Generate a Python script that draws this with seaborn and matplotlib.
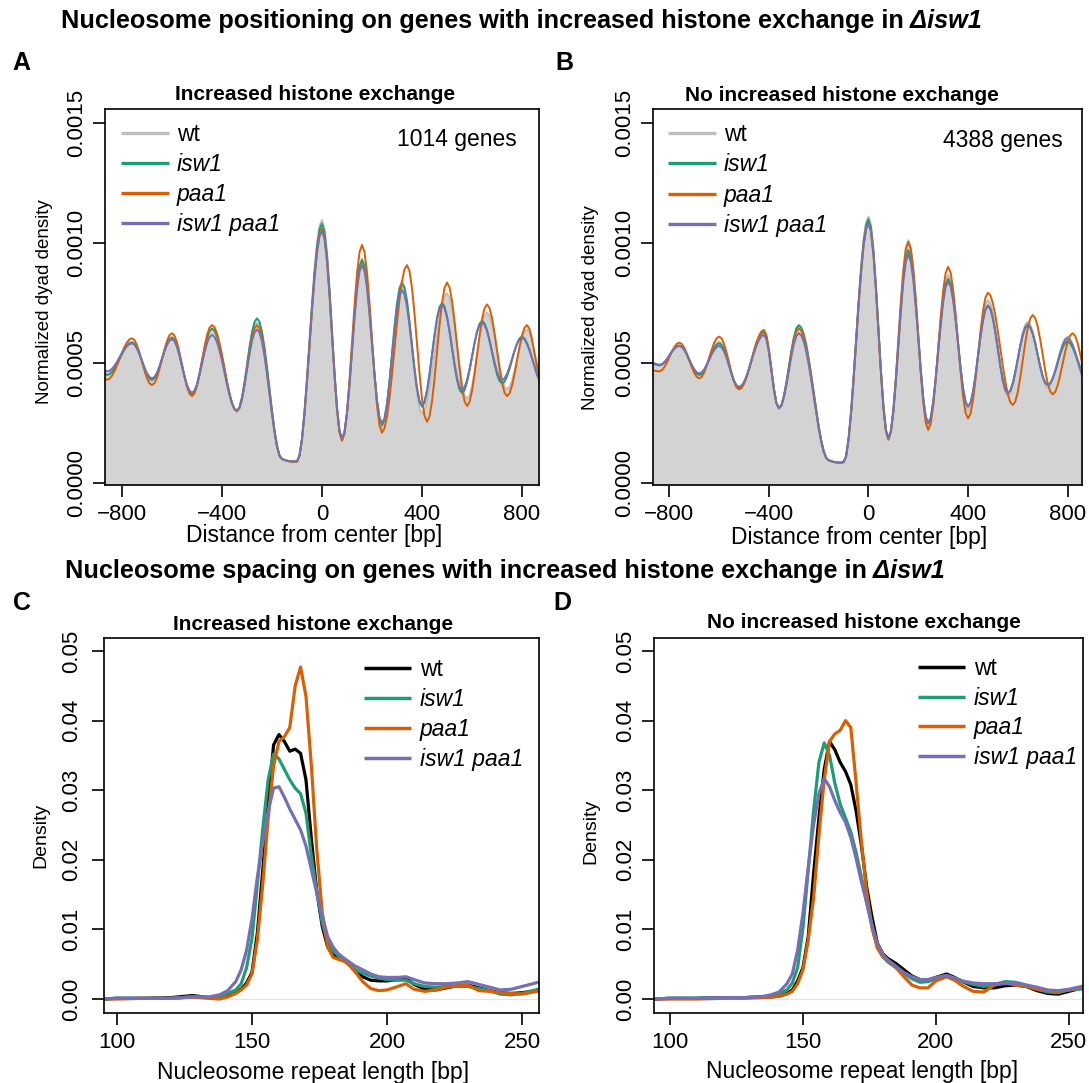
import numpy as np
import pandas as pd
import matplotlib
matplotlib.use("Agg")
import matplotlib.pyplot as plt
import seaborn as sns
from matplotlib.lines import Line2D

# ---------------- data ----------------
strains = ["wt", "isw1", "paa1", "isw1 paa1"]
colors_AB = ["#BEBEBE", "#1B9E77", "#D95F02", "#7570B3"]
colors_CD = ["#000000", "#1B9E77", "#D95F02", "#7570B3"]
genes_A = "1014 genes"
genes_B = "4388 genes"

# distance from center [bp]
dyad_x = np.arange(-880, 881, 10)

# normalized dyad density (units of 1e-4), panel A (increased exchange)
A_wt = [
    4.65, 4.60, 4.55, 4.58, 4.68, 4.83, 5.02, 5.22, 5.43, 5.62,
    5.77, 5.87, 5.90, 5.84, 5.66, 5.39, 5.08, 4.76, 4.49, 4.31,
    4.25, 4.32, 4.52, 4.82, 5.18, 5.53, 5.83, 6.03, 6.10, 6.01,
    5.75, 5.36, 4.90, 4.44, 4.05, 3.79, 3.70, 3.80, 4.10, 4.53,
    5.05, 5.57, 6.00, 6.30, 6.40, 6.32, 6.08, 5.70, 5.23, 4.70,
    4.17, 3.70, 3.32, 3.08, 3.00, 3.14, 3.54, 4.14, 4.85, 5.56,
    6.16, 6.56, 6.70, 6.56, 6.16, 5.53, 4.73, 3.85, 2.97, 2.18,
    1.54, 1.14, 1.00, 0.96, 0.93, 0.91, 0.90, 0.90, 0.90, 1.15,
    1.86, 2.97, 4.38, 5.93, 7.48, 8.89, 10.00, 10.71, 10.96, 10.61,
    9.62, 8.13, 6.38, 4.63, 3.14, 2.15, 1.80, 2.09, 2.91, 4.13,
    5.58, 7.02, 8.25, 9.06, 9.35, 9.08, 8.32, 7.17, 5.83, 4.48,
    3.33, 2.57, 2.30, 2.53, 3.19, 4.18, 5.35, 6.52, 7.51, 8.17,
    8.40, 8.19, 7.60, 6.70, 5.65, 4.60, 3.71, 3.11, 2.90, 3.02,
    3.38, 3.93, 4.63, 5.40, 6.17, 6.87, 7.42, 7.78, 7.90, 7.73,
    7.26, 6.54, 5.70, 4.86, 4.14, 3.67, 3.50, 3.64, 4.03, 4.61,
    5.30, 5.99, 6.57, 6.96, 7.10, 6.98, 6.63, 6.11, 5.50, 4.89,
    4.37, 4.02, 3.90, 4.00, 4.27, 4.67, 5.15, 5.63, 6.03, 6.30,
    6.40, 6.28, 5.90, 5.45, 5.00, 4.65, 4.40]
A_isw1 = [
    4.60, 4.55, 4.50, 4.53, 4.63, 4.78, 4.97, 5.17, 5.38, 5.57,
    5.72, 5.82, 5.85, 5.79, 5.62, 5.37, 5.08, 4.78, 4.53, 4.36,
    4.30, 4.37, 4.56, 4.84, 5.18, 5.51, 5.79, 5.98, 6.05, 5.96,
    5.71, 5.32, 4.88, 4.43, 4.04, 3.79, 3.70, 3.80, 4.10, 4.55,
    5.07, 5.59, 6.04, 6.34, 6.44, 6.36, 6.11, 5.73, 5.25, 4.72,
    4.19, 3.71, 3.33, 3.08, 3.00, 3.15, 3.57, 4.19, 4.93, 5.67,
    6.29, 6.71, 6.86, 6.72, 6.30, 5.65, 4.84, 3.93, 3.02, 2.21,
    1.56, 1.14, 1.00, 0.96, 0.93, 0.91, 0.90, 0.90, 0.90, 1.14,
    1.85, 2.94, 4.32, 5.85, 7.38, 8.76, 9.85, 10.56, 10.80, 10.46,
    9.48, 8.02, 6.30, 4.58, 3.12, 2.14, 1.80, 2.09, 2.90, 4.11,
    5.55, 6.98, 8.19, 9.00, 9.29, 9.03, 8.28, 7.17, 5.86, 4.54,
    3.43, 2.68, 2.42, 2.64, 3.28, 4.24, 5.37, 6.50, 7.46, 8.10,
    8.32, 8.12, 7.57, 6.73, 5.75, 4.77, 3.93, 3.38, 3.18, 3.34,
    3.81, 4.51, 5.34, 6.17, 6.87, 7.34, 7.50, 7.36, 6.95, 6.34,
    5.63, 4.91, 4.30, 3.89, 3.75, 3.86, 4.19, 4.68, 5.25, 5.82,
    6.31, 6.64, 6.75, 6.65, 6.37, 5.95, 5.45, 4.95, 4.53, 4.25,
    4.15, 4.22, 4.44, 4.75, 5.13, 5.50, 5.81, 6.03, 6.10, 6.02,
    5.82, 5.55, 5.20, 4.87, 4.55, 4.33, 4.15]
A_paa1 = [
    4.45, 4.37, 4.30, 4.34, 4.47, 4.66, 4.90, 5.17, 5.43, 5.67,
    5.86, 5.99, 6.03, 5.96, 5.74, 5.43, 5.06, 4.68, 4.37, 4.15,
    4.08, 4.16, 4.40, 4.75, 5.16, 5.57, 5.92, 6.16, 6.24, 6.14,
    5.86, 5.43, 4.93, 4.43, 4.00, 3.72, 3.62, 3.73, 4.05, 4.53,
    5.10, 5.67, 6.15, 6.47, 6.58, 6.49, 6.24, 5.84, 5.34, 4.78,
    4.22, 3.72, 3.32, 3.07, 2.98, 3.12, 3.51, 4.09, 4.78, 5.47,
    6.05, 6.44, 6.58, 6.44, 6.05, 5.43, 4.65, 3.79, 2.93, 2.15,
    1.53, 1.14, 1.00, 0.96, 0.92, 0.90, 0.88, 0.88, 0.90, 1.14,
    1.83, 2.90, 4.25, 5.75, 7.25, 8.60, 9.67, 10.36, 10.60, 10.26,
    9.31, 7.87, 6.18, 4.49, 3.05, 2.10, 1.76, 2.07, 2.95, 4.28,
    5.84, 7.40, 8.73, 9.61, 9.92, 9.62, 8.78, 7.51, 6.01, 4.51,
    3.24, 2.40, 2.10, 2.27, 2.77, 3.54, 4.51, 5.59, 6.67, 7.64,
    8.41, 8.91, 9.08, 8.83, 8.12, 7.06, 5.82, 4.57, 3.51, 2.80,
    2.55, 2.77, 3.40, 4.34, 5.45, 6.56, 7.50, 8.13, 8.35, 8.15,
    7.60, 6.76, 5.78, 4.80, 3.96, 3.41, 3.21, 3.37, 3.83, 4.52,
    5.33, 6.13, 6.82, 7.28, 7.44, 7.29, 6.88, 6.26, 5.53, 4.80,
    4.18, 3.77, 3.62, 3.73, 4.05, 4.53, 5.10, 5.67, 6.15, 6.47,
    6.58, 6.42, 6.00, 5.40, 4.85, 4.45, 4.15]
A_isw1paa1 = [
    4.80, 4.72, 4.65, 4.68, 4.76, 4.89, 5.05, 5.24, 5.42, 5.58,
    5.71, 5.79, 5.82, 5.76, 5.61, 5.37, 5.09, 4.81, 4.57, 4.42,
    4.36, 4.42, 4.60, 4.86, 5.18, 5.49, 5.75, 5.93, 5.99, 5.91,
    5.66, 5.30, 4.88, 4.45, 4.09, 3.85, 3.76, 3.85, 4.11, 4.50,
    4.97, 5.43, 5.82, 6.08, 6.17, 6.09, 5.87, 5.52, 5.08, 4.60,
    4.11, 3.67, 3.32, 3.10, 3.02, 3.15, 3.51, 4.06, 4.71, 5.36,
    5.91, 6.27, 6.40, 6.27, 5.88, 5.29, 4.53, 3.70, 2.87, 2.11,
    1.52, 1.13, 1.00, 0.96, 0.93, 0.91, 0.90, 0.90, 0.90, 1.14,
    1.82, 2.88, 4.22, 5.70, 7.18, 8.52, 9.58, 10.27, 10.50, 10.17,
    9.24, 7.83, 6.18, 4.53, 3.12, 2.19, 1.86, 2.14, 2.92, 4.09,
    5.47, 6.85, 8.02, 8.81, 9.08, 8.83, 8.12, 7.05, 5.79, 4.52,
    3.46, 2.74, 2.49, 2.70, 3.30, 4.20, 5.27, 6.33, 7.23, 7.83,
    8.04, 7.86, 7.34, 6.56, 5.65, 4.73, 3.95, 3.43, 3.25, 3.41,
    3.86, 4.54, 5.34, 6.13, 6.81, 7.26, 7.42, 7.29, 6.90, 6.33,
    5.65, 4.97, 4.39, 4.01, 3.88, 3.99, 4.29, 4.74, 5.28, 5.82,
    6.27, 6.57, 6.68, 6.59, 6.33, 5.94, 5.49, 5.03, 4.64, 4.38,
    4.29, 4.36, 4.55, 4.83, 5.17, 5.51, 5.79, 5.98, 6.05, 5.98,
    5.80, 5.52, 5.20, 4.85, 4.50, 4.28, 4.10]

# panel B (no increased exchange)
B_wt = [
    5.00, 4.97, 4.95, 4.92, 4.90, 4.93, 5.02, 5.16, 5.33, 5.49,
    5.63, 5.72, 5.75, 5.70, 5.57, 5.36, 5.13, 4.89, 4.68, 4.55,
    4.50, 4.55, 4.70, 4.93, 5.20, 5.47, 5.70, 5.85, 5.90, 5.83,
    5.61, 5.30, 4.93, 4.55, 4.24, 4.02, 3.95, 4.01, 4.17, 4.43,
    4.76, 5.13, 5.49, 5.82, 6.08, 6.24, 6.30, 6.09, 5.50, 4.71,
    3.91, 3.32, 3.11, 3.24, 3.61, 4.16, 4.81, 5.45, 6.00, 6.37,
    6.50, 6.41, 6.13, 5.69, 5.11, 4.44, 3.73, 3.01, 2.34, 1.76,
    1.32, 1.04, 0.95, 0.91, 0.88, 0.86, 0.85, 0.85, 0.87, 1.12,
    1.85, 2.98, 4.40, 5.99, 7.57, 8.99, 10.12, 10.85, 11.10, 10.75,
    9.75, 8.25, 6.48, 4.71, 3.21, 2.21, 1.86, 2.17, 3.07, 4.41,
    5.99, 7.57, 8.91, 9.81, 10.12, 9.83, 8.99, 7.74, 6.26, 4.78,
    3.53, 2.69, 2.40, 2.64, 3.32, 4.34, 5.54, 6.73, 7.75, 8.43,
    8.67, 8.45, 7.84, 6.92, 5.84, 4.75, 3.83, 3.22, 3.00, 3.18,
    3.68, 4.43, 5.31, 6.20, 6.95, 7.45, 7.63, 7.48, 7.04, 6.39,
    5.62, 4.84, 4.19, 3.75, 3.60, 3.72, 4.06, 4.56, 5.16, 5.76,
    6.26, 6.60, 6.72, 6.61, 6.31, 5.87, 5.34, 4.81, 4.36, 4.06,
    3.95, 4.03, 4.26, 4.61, 5.03, 5.44, 5.79, 6.02, 6.10, 6.00,
    5.80, 5.52, 5.20, 4.90, 4.60, 4.38, 4.20]
B_isw1 = [
    5.00, 4.97, 4.95, 4.92, 4.90, 4.93, 5.02, 5.15, 5.31, 5.47,
    5.60, 5.69, 5.72, 5.67, 5.54, 5.34, 5.11, 4.88, 4.68, 4.55,
    4.50, 4.55, 4.69, 4.91, 5.16, 5.41, 5.63, 5.77, 5.82, 5.75,
    5.55, 5.24, 4.89, 4.53, 4.22, 4.02, 3.95, 4.01, 4.17, 4.43,
    4.76, 5.13, 5.49, 5.82, 6.08, 6.24, 6.30, 6.09, 5.50, 4.71,
    3.91, 3.32, 3.11, 3.24, 3.62, 4.18, 4.85, 5.51, 6.07, 6.45,
    6.58, 6.48, 6.20, 5.76, 5.17, 4.49, 3.77, 3.04, 2.36, 1.77,
    1.33, 1.05, 0.95, 0.91, 0.88, 0.86, 0.85, 0.85, 0.87, 1.12,
    1.84, 2.96, 4.37, 5.93, 7.49, 8.90, 10.02, 10.74, 10.99, 10.64,
    9.65, 8.17, 6.43, 4.68, 3.20, 2.21, 1.86, 2.16, 3.01, 4.28,
    5.78, 7.28, 8.55, 9.40, 9.70, 9.43, 8.64, 7.47, 6.10, 4.72,
    3.55, 2.77, 2.49, 2.72, 3.37, 4.35, 5.50, 6.65, 7.62, 8.27,
    8.50, 8.30, 7.72, 6.86, 5.84, 4.82, 3.96, 3.38, 3.18, 3.34,
    3.80, 4.48, 5.29, 6.10, 6.78, 7.24, 7.40, 7.26, 6.86, 6.27,
    5.57, 4.87, 4.28, 3.88, 3.74, 3.85, 4.16, 4.62, 5.17, 5.72,
    6.18, 6.49, 6.60, 6.50, 6.23, 5.82, 5.34, 4.86, 4.45, 4.18,
    4.08, 4.15, 4.35, 4.64, 4.99, 5.34, 5.63, 5.83, 5.90, 5.82,
    5.65, 5.40, 5.10, 4.83, 4.57, 4.37, 4.20]
B_paa1 = [
    4.72, 4.70, 4.68, 4.66, 4.65, 4.70, 4.83, 5.02, 5.25, 5.48,
    5.67, 5.80, 5.85, 5.79, 5.63, 5.39, 5.11, 4.82, 4.58, 4.42,
    4.36, 4.43, 4.61, 4.90, 5.23, 5.56, 5.85, 6.03, 6.10, 6.02,
    5.78, 5.42, 5.00, 4.58, 4.22, 3.98, 3.90, 3.96, 4.14, 4.41,
    4.76, 5.14, 5.52, 5.87, 6.14, 6.32, 6.38, 6.16, 5.56, 4.75,
    3.93, 3.33, 3.11, 3.24, 3.60, 4.14, 4.78, 5.41, 5.95, 6.31,
    6.44, 6.35, 6.07, 5.64, 5.07, 4.41, 3.70, 2.99, 2.32, 1.75,
    1.32, 1.04, 0.95, 0.91, 0.88, 0.86, 0.85, 0.85, 0.87, 1.11,
    1.82, 2.92, 4.31, 5.85, 7.38, 8.77, 9.87, 10.58, 10.82, 10.48,
    9.50, 8.04, 6.31, 4.58, 3.12, 2.14, 1.80, 2.11, 3.01, 4.35,
    5.93, 7.50, 8.84, 9.74, 10.05, 9.75, 8.90, 7.63, 6.13, 4.63,
    3.36, 2.51, 2.21, 2.47, 3.21, 4.31, 5.61, 6.91, 8.01, 8.75,
    9.01, 8.77, 8.08, 7.06, 5.85, 4.64, 3.62, 2.93, 2.69, 2.89,
    3.46, 4.31, 5.31, 6.31, 7.16, 7.73, 7.93, 7.82, 7.48, 6.97,
    6.31, 5.59, 4.87, 4.21, 3.70, 3.36, 3.25, 3.39, 3.80, 4.41,
    5.13, 5.84, 6.45, 6.86, 7.00, 6.87, 6.52, 5.98, 5.35, 4.71,
    4.17, 3.82, 3.69, 3.79, 4.06, 4.48, 4.97, 5.45, 5.87, 6.14,
    6.24, 6.14, 5.85, 5.40, 4.90, 4.50, 4.20]
B_isw1paa1 = [
    5.05, 5.02, 4.99, 4.95, 4.93, 4.96, 5.04, 5.17, 5.32, 5.47,
    5.60, 5.68, 5.71, 5.67, 5.54, 5.36, 5.14, 4.92, 4.74, 4.61,
    4.57, 4.61, 4.74, 4.92, 5.14, 5.36, 5.54, 5.67, 5.71, 5.65,
    5.46, 5.19, 4.86, 4.54, 4.26, 4.07, 4.01, 4.06, 4.22, 4.46,
    4.76, 5.09, 5.42, 5.73, 5.96, 6.12, 6.17, 5.97, 5.41, 4.64,
    3.88, 3.32, 3.11, 3.23, 3.57, 4.08, 4.68, 5.27, 5.78, 6.12,
    6.24, 6.15, 5.89, 5.47, 4.92, 4.28, 3.60, 2.91, 2.27, 1.72,
    1.30, 1.04, 0.95, 0.91, 0.88, 0.86, 0.85, 0.85, 0.87, 1.11,
    1.82, 2.92, 4.31, 5.85, 7.38, 8.77, 9.87, 10.58, 10.82, 10.48,
    9.51, 8.05, 6.34, 4.63, 3.17, 2.20, 1.86, 2.15, 2.98, 4.22,
    5.68, 7.14, 8.38, 9.21, 9.50, 9.23, 8.47, 7.34, 6.00, 4.65,
    3.52, 2.76, 2.49, 2.71, 3.35, 4.31, 5.44, 6.57, 7.53, 8.17,
    8.39, 8.19, 7.63, 6.78, 5.79, 4.79, 3.94, 3.38, 3.18, 3.34,
    3.79, 4.48, 5.28, 6.08, 6.76, 7.22, 7.38, 7.24, 6.85, 6.26,
    5.56, 4.86, 4.27, 3.88, 3.74, 3.85, 4.16, 4.62, 5.16, 5.70,
    6.16, 6.47, 6.58, 6.48, 6.21, 5.81, 5.33, 4.85, 4.45, 4.18,
    4.08, 4.15, 4.37, 4.68, 5.06, 5.43, 5.74, 5.96, 6.03, 5.95,
    5.75, 5.45, 5.10, 4.75, 4.40, 4.18, 4.00]

# nucleosome repeat length [bp]
nrl_x = [94, 100, 110, 120, 128, 134, 138, 141, 144, 146,
         148, 150, 152, 154, 156, 158, 160, 162, 164, 166,
         168, 170, 172, 174, 176, 178, 180, 182, 185, 188,
         191, 194, 197, 200, 204, 207, 210, 214, 218, 222,
         226, 230, 234, 238, 242, 246, 250, 257]

# density (units of 1e-3), panel C
C_wt = [0.0, 0.1, 0.1, 0.2, 0.5, 0.2, 0.3, 0.5, 0.9, 1.4,
        2.3, 3.8, 9.5, 18.5, 28.0, 36.5, 38.0, 37.0, 35.6, 35.9,
        35.3, 31.5, 23.0, 15.5, 10.5, 7.5, 6.3, 6.0, 5.5, 4.2,
        3.2, 2.7, 2.6, 2.6, 2.8, 3.0, 2.1, 1.4, 1.3, 1.6,
        1.9, 2.0, 1.6, 1.2, 0.9, 0.8, 0.9, 1.3]
C_isw1 = [0.0, 0.1, 0.1, 0.1, 0.3, 0.2, 0.4, 0.8, 1.3, 2.2,
          4.5, 8.7, 16.5, 24.5, 31.5, 35.2, 34.5, 33.0, 31.5, 30.3,
          29.5, 26.7, 20.5, 15.5, 11.0, 8.2, 7.0, 6.2, 5.2, 4.3,
          3.7, 3.3, 3.0, 2.8, 2.7, 2.7, 2.2, 1.8, 1.7, 1.8,
          1.8, 1.8, 1.5, 1.2, 0.7, 0.6, 0.8, 1.5]
C_paa1 = [0.0, 0.0, 0.1, 0.1, 0.3, 0.1, 0.0, 0.3, 0.8, 1.3,
          2.0, 3.6, 8.5, 16.5, 26.0, 33.5, 37.0, 37.7, 39.0, 45.0,
          47.7, 43.5, 33.5, 21.5, 12.5, 7.5, 6.0, 5.7, 5.3, 4.0,
          2.5, 1.5, 1.2, 1.3, 1.8, 2.2, 1.4, 1.1, 1.3, 1.7,
          1.9, 2.0, 1.2, 1.1, 0.9, 0.8, 0.7, 1.2]
C_isw1paa1 = [0.0, 0.1, 0.1, 0.1, 0.3, 0.3, 0.6, 1.2, 2.5, 4.2,
              7.0, 11.5, 17.5, 22.5, 27.0, 30.3, 30.5, 29.0, 27.3, 25.8,
              24.3, 22.0, 18.6, 15.2, 12.0, 9.0, 7.5, 6.5, 5.6, 4.8,
              4.2, 3.6, 3.2, 3.1, 3.1, 3.2, 2.8, 2.3, 2.2, 2.2,
              2.3, 2.5, 2.1, 1.7, 1.3, 1.4, 1.8, 2.5]

# panel D
D_wt = [0.0, 0.1, 0.1, 0.2, 0.2, 0.3, 0.3, 0.4, 0.8, 1.3,
        2.6, 4.5, 9.0, 18.0, 26.0, 33.0, 37.0, 35.8, 34.0, 32.7,
        30.8, 27.0, 22.0, 16.0, 11.7, 8.0, 6.5, 5.8, 5.1, 4.2,
        3.3, 2.8, 2.7, 3.1, 3.6, 3.1, 2.5, 1.8, 1.6, 1.6,
        1.9, 2.0, 1.8, 1.2, 0.8, 0.7, 1.1, 1.8]
D_isw1 = [0.0, 0.1, 0.1, 0.2, 0.2, 0.3, 0.5, 0.8, 1.3, 2.3,
          4.5, 10.2, 18.5, 27.0, 34.0, 36.8, 35.0, 31.0, 28.0, 26.0,
          24.0, 21.0, 17.5, 13.8, 10.3, 7.5, 6.1, 5.3, 4.5, 3.7,
          2.9, 2.4, 2.5, 2.9, 3.4, 3.0, 2.5, 2.1, 1.8, 2.1,
          2.5, 2.4, 2.0, 1.4, 1.0, 0.9, 1.3, 1.5]
D_paa1 = [0.0, 0.0, 0.0, 0.1, 0.1, 0.2, 0.3, 0.4, 0.7, 1.1,
          2.2, 4.2, 8.5, 14.5, 23.5, 31.5, 37.0, 38.1, 38.6, 40.0,
          39.0, 31.0, 22.5, 15.3, 10.2, 7.3, 6.1, 5.5, 4.5, 3.2,
          2.0, 1.6, 1.6, 2.6, 3.2, 2.7, 1.9, 1.1, 1.0, 2.0,
          2.3, 2.0, 1.8, 1.4, 1.2, 1.1, 1.3, 1.8]
D_isw1paa1 = [0.0, 0.1, 0.1, 0.2, 0.2, 0.3, 0.6, 1.0, 2.2, 3.6,
              7.0, 12.3, 19.0, 25.0, 29.5, 31.7, 30.5, 28.5, 26.8, 25.4,
              23.2, 20.2, 16.8, 13.8, 10.6, 8.0, 6.4, 5.6, 4.7, 3.8,
              3.2, 2.8, 2.8, 3.1, 3.4, 3.0, 2.6, 2.3, 2.2, 2.2,
              2.2, 2.3, 2.0, 1.7, 1.3, 1.2, 1.4, 2.0]

dyad_ticks = [-800, -400, 0, 400, 800]
dyad_ticklabels = ["\u2212800", "\u2212400", "0", "400", "800"]
dyad_yticks = [0.0, 0.0005, 0.0010, 0.0015]
dyad_yticklabels = ["0.0000", "0.0005", "0.0010", "0.0015"]
nrl_ticks = [100, 150, 200, 250]
nrl_ticklabels = ["100", "150", "200", "250"]
dens_yticks = [0.0, 0.01, 0.02, 0.03, 0.04, 0.05]
dens_yticklabels = ["0.00", "0.01", "0.02", "0.03", "0.04", "0.05"]

# ---------------- figure ----------------
sns.set_theme(style="white")
plt.rcParams["font.family"] = ["Liberation Sans", "DejaVu Sans"]
plt.rcParams["axes.grid"] = False
plt.rcParams["lines.solid_joinstyle"] = "round"
plt.rcParams["text.color"] = "black"
plt.rcParams["axes.labelcolor"] = "black"

W, H = 1089, 1083
fig = plt.figure(figsize=(W / 100, H / 100), dpi=100)
fig.patch.set_facecolor("white")


def fx(px):
    return px / W


def fy(py):
    return 1 - py / H


def add_axes(left, right, top, bottom):
    return fig.add_axes([fx(left), fy(bottom), (right - left) / W, (bottom - top) / H])


axA = add_axes(105, 539, 109, 485)
axB = add_axes(653, 1082, 109, 485)
axC = add_axes(104, 539, 638, 1013)
axD = add_axes(654, 1083, 638, 1013)


def style_axes(ax, xlim, ylim, xt, xtl, yt, ytl, ypad):
    ax.set_xlim(*xlim)
    ax.set_ylim(*ylim)
    ax.set_xticks(xt, xtl)
    ax.set_yticks(yt, ytl)
    ax.tick_params(axis="both", labelsize=16, length=8.6, width=1.2,
                   colors="black", direction="out", bottom=True, left=True)
    ax.tick_params(axis="x", pad=5)
    ax.tick_params(axis="y", pad=ypad, labelrotation=90)
    for lab in ax.get_yticklabels():
        lab.set_va("center")
    for s in ax.spines.values():
        s.set_visible(True)
        s.set_color("black")
        s.set_linewidth(1.2)
    ax.set_facecolor("white")


def dyad_panel(ax, series):
    wt = np.array(series[0]) * 1e-4
    ax.fill_between(dyad_x, wt, -0.001, color="#D3D3D3", lw=0, zorder=1)
    for vals, c in zip(series, colors_AB):
        df = pd.DataFrame({"x": dyad_x, "y": np.array(vals) * 1e-4})
        sns.lineplot(data=df, x="x", y="y", ax=ax, color=c, linewidth=1.4,
                     estimator=None, sort=False, zorder=2)


def dens_panel(ax, series):
    ax.axhline(0, color="#E5E5E5", lw=0.9, zorder=1)
    for vals, c in zip(series, colors_CD):
        df = pd.DataFrame({"x": nrl_x, "y": np.array(vals) * 1e-3})
        sns.lineplot(data=df, x="x", y="y", ax=ax, color=c, linewidth=2.3,
                     estimator=None, sort=False, zorder=2)


dyad_panel(axA, [A_wt, A_isw1, A_paa1, A_isw1paa1])
dyad_panel(axB, [B_wt, B_isw1, B_paa1, B_isw1paa1])
dens_panel(axC, [C_wt, C_isw1, C_paa1, C_isw1paa1])
dens_panel(axD, [D_wt, D_isw1, D_paa1, D_isw1paa1])

yl_AB = (-0.0000083, 0.0015583)
yl_CD = (-0.00201, 0.05187)
style_axes(axA, (-868, 868), yl_AB, dyad_ticks, dyad_ticklabels, dyad_yticks, dyad_yticklabels, 4.5)
style_axes(axB, (-866, 858), yl_AB, dyad_ticks, dyad_ticklabels, dyad_yticks, dyad_yticklabels, 4.5)
style_axes(axC, (95.2, 256.3), yl_CD, nrl_ticks, nrl_ticklabels, dens_yticks, dens_yticklabels, 7)
style_axes(axD, (94.0, 255.3), yl_CD, nrl_ticks, nrl_ticklabels, dens_yticks, dens_yticklabels, 4.5)

for ax, xc, xy, yc, yy in [(axA, 0.483, -0.105, -0.12, 0.487),
                           (axB, 0.480, -0.108, -0.126, 0.473)]:
    ax.set_xlabel("Distance from center [bp]", fontsize=16.5)
    ax.set_ylabel("Normalized dyad density", fontsize=13.5)
    ax.xaxis.set_label_coords(xc, xy)
    ax.yaxis.set_label_coords(yc, yy)
for ax, xc, xy, yc, yy in [(axC, 0.480, -0.129, -0.126, 0.475),
                           (axD, 0.486, -0.125, -0.128, 0.483)]:
    ax.set_xlabel("Nucleosome repeat length [bp]", fontsize=16.5)
    ax.set_ylabel("Density", fontsize=14)
    ax.xaxis.set_label_coords(xc, xy)
    ax.yaxis.set_label_coords(yc, yy)

# gene counts
fig.text(fx(517), fy(146), genes_A, ha="right", va="baseline", fontsize=16.5)
fig.text(fx(1063), fy(147), genes_B, ha="right", va="baseline", fontsize=16.5)

# panel subtitles
fig.text(fx(315), fy(100), "Increased histone exchange", ha="center", va="baseline",
         fontsize=15, fontweight="bold")
fig.text(fx(842), fy(101), "No increased histone exchange", ha="center", va="baseline",
         fontsize=15, fontweight="bold")
fig.text(fx(313), fy(630), "Increased histone exchange", ha="center", va="baseline",
         fontsize=15, fontweight="bold")
fig.text(fx(864), fy(628), "No increased histone exchange", ha="center", va="baseline",
         fontsize=15, fontweight="bold")

# panel letters
for letter, x, y in [("A", 12, 70), ("B", 555, 70), ("C", 13, 610), ("D", 553, 610)]:
    fig.text(fx(x), fy(y), letter, ha="left", va="baseline", fontsize=18, fontweight="bold")

renderer = fig.canvas.get_renderer()


def two_part_title(cx, base, p1, p2, size):
    t1 = fig.text(0, fy(base), p1, fontsize=size, fontweight="bold", va="baseline", ha="left")
    t2 = fig.text(0, fy(base), p2, fontsize=size, fontweight="bold", style="italic",
                  va="baseline", ha="left")
    w1 = t1.get_window_extent(renderer).width
    w2 = t2.get_window_extent(renderer).width
    x0 = cx - (w1 + w2) / 2
    t1.set_x(fx(x0))
    t2.set_x(fx(x0 + w1))


two_part_title(521, 28, "Nucleosome positioning on genes with increased histone exchange in",
               " \u0394isw1", 18.2)
two_part_title(505, 578, "Nucleosome spacing on genes with increased histone exchange in",
               " \u0394isw1", 18.2)


def place_legend(ax, colors, lw, fs, x_left, y_first, pitch, hlen, tpad):
    fs_px = fs * 100 / 72
    handles = [Line2D([], [], color=c, lw=lw, solid_capstyle="butt") for c in colors]

    def make(s, anchor):
        leg = ax.legend(handles, strains, loc="upper left", bbox_to_anchor=anchor,
                        bbox_transform=fig.transFigure, frameon=False, borderpad=0,
                        borderaxespad=0, handlelength=hlen / fs_px,
                        handletextpad=tpad / fs_px, labelspacing=s, fontsize=fs)
        for t in leg.get_texts():
            t.set_color("black")
        for t in leg.get_texts()[1:]:
            t.set_fontstyle("italic")
        return leg

    def line_pos(leg):
        fig.canvas.draw()
        out = []
        for ln in leg.get_lines():
            pts = ln.get_transform().transform(ln.get_xydata())
            out.append((pts[:, 0].min(), pts[:, 1].mean()))
        return out

    s0 = 0.3
    anchor = (fx(x_left), fy(y_first - 12))
    leg = make(s0, anchor)
    pos = line_pos(leg)
    row_h = (pos[0][1] - pos[1][1]) - s0 * fs_px
    s1 = max((pitch - row_h) / fs_px, 0.0)
    leg = make(s1, anchor)
    pos = line_pos(leg)
    dx = x_left - pos[0][0]
    dy = (H - y_first) - pos[0][1]
    leg = make(s1, (anchor[0] + dx / W, anchor[1] + dy / H))
    return leg


place_legend(axA, colors_AB, 2.4, 16.5, 121, 133, 30, 48, 8)
place_legend(axB, colors_AB, 2.4, 16.5, 668, 133, 30.3, 48, 8)
place_legend(axC, colors_CD, 2.5, 16.5, 364, 668, 30, 47, 9)
place_legend(axD, colors_CD, 2.5, 16.5, 918, 667, 29.7, 47, 9)

fig.savefig("out.png", dpi=100, facecolor="white")
